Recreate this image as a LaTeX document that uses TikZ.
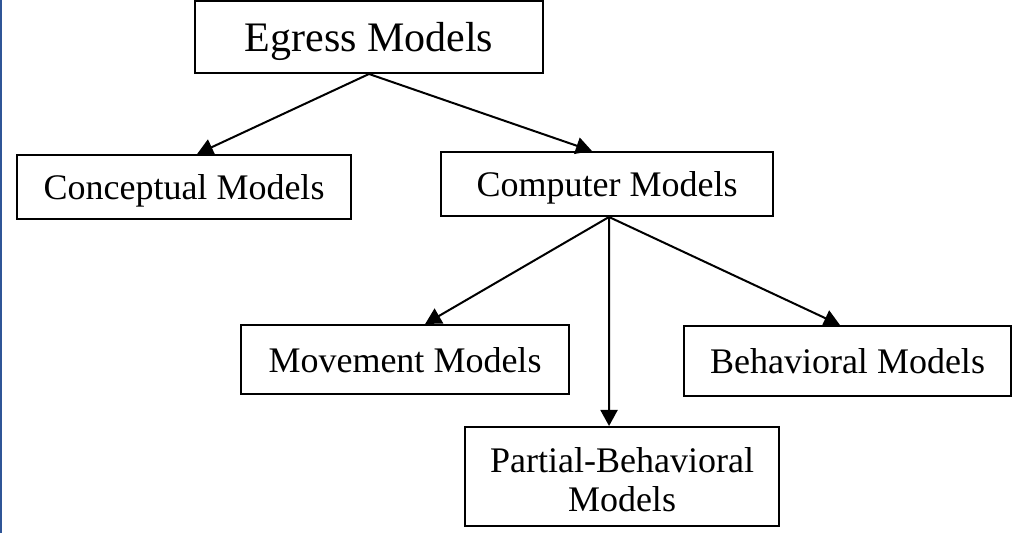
\documentclass[tikz,border=0pt]{standalone}
\usepackage{fontspec}
\setmainfont{Liberation Serif}
\usetikzlibrary{arrows.meta,calc}
\definecolor{frameblue}{RGB}{47,85,151}
\begin{document}
\begin{tikzpicture}[x=0.5pt,y=-0.5pt,
  box/.style={draw=black,line width=1pt,rectangle,inner sep=0pt,align=center,
    text height=13pt,text depth=0pt,font=\fontsize{18}{19.5}\selectfont},
  link/.style={line width=1pt,-{Triangle[length=8pt,width=8.5pt]}}]
  \useasboundingbox (0,0) rectangle (1012,533);
  % left frame rule
  \draw[frameblue,line width=1pt] (1,0) -- (1,533);
  % boxes
  \node[box,minimum width=174pt,minimum height=36pt,text height=15pt,
    font=\fontsize{21}{24}\selectfont] (eg) at (369,37) {Egress Models};
  \node[box,minimum width=167pt,minimum height=32pt] (con) at (184,187) {Conceptual Models};
  \node[box,minimum width=166pt,minimum height=32pt] (com) at (607,184) {Computer Models};
  \node[box,minimum width=164pt,minimum height=34.5pt] (mov) at (405,359.5) {Movement Models};
  \node[box,minimum width=163.5pt,minimum height=35pt] (beh) at (847.5,361) {Behavioral Models};
  \node[box,minimum width=157pt,minimum height=49.5pt,text height=35.5pt]
    (par) at (622,476.5) {Partial-Behavioral\\Models};
  % connectors
  \coordinate (comout) at ($(com.south west)!0.506!(com.south east)$);
  \draw[link] (eg.south) -- ($(con.north west)!0.539!(con.north east)$);
  \draw[link] (eg.south) -- ($(com.north west)!0.455!(com.north east)$);
  \draw[link] (comout) -- ($(mov.north west)!0.561!(mov.north east)$);
  \draw[link] (comout) -- ($(par.north west)!0.459!(par.north east)$);
  \draw[link] (comout) -- ($(beh.north west)!0.477!(beh.north east)$);
\end{tikzpicture}
\end{document}
